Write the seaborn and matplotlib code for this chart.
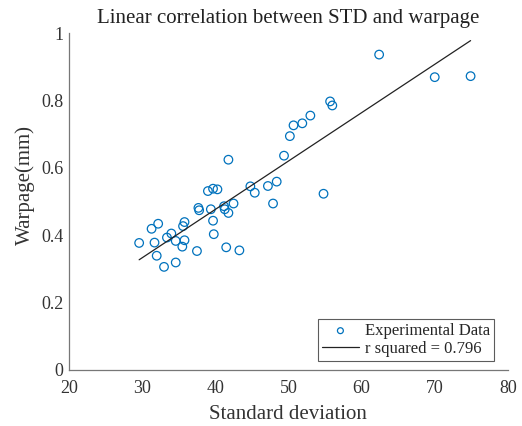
import matplotlib
matplotlib.use("Agg")
import matplotlib.pyplot as plt
import seaborn as sns
import pandas as pd
import numpy as np

std_dev = [29.6, 31.3, 32.2, 31.7, 32.0, 33.0, 34.6, 33.4, 34.0, 34.6, 35.5, 35.8,
           35.8, 35.6, 37.5, 37.7, 37.8, 39.0, 39.7, 40.3, 39.4, 39.7, 39.8, 41.2,
           41.3, 41.8, 42.5, 41.5, 43.3, 44.8, 45.4, 47.2, 48.4, 47.9, 41.8, 54.8,
           49.4, 50.2, 50.7, 51.9, 53.0, 55.7, 56.0, 62.4, 70.0, 74.9]
warpage = [0.377, 0.419, 0.434, 0.378, 0.339, 0.306, 0.319, 0.393, 0.405, 0.383, 0.366, 0.385,
           0.439, 0.427, 0.353, 0.481, 0.474, 0.531, 0.538, 0.536, 0.477, 0.443, 0.403, 0.486,
           0.477, 0.466, 0.494, 0.364, 0.355, 0.545, 0.526, 0.546, 0.559, 0.494, 0.624, 0.523,
           0.636, 0.694, 0.726, 0.732, 0.755, 0.797, 0.785, 0.936, 0.869, 0.872]

x_ticks = [20, 30, 40, 50, 60, 70, 80]
y_ticks = [0, 0.2, 0.4, 0.6, 0.8, 1]
y_tick_labels = ["0", "0.2", "0.4", "0.6", "0.8", "1"]

df = pd.DataFrame({"std": std_dev, "warp": warpage})

sns.set_style("white")
plt.rcParams["font.family"] = ["Liberation Serif", "DejaVu Serif"]

fig = plt.figure(figsize=(5.22, 4.26), dpi=100)
ax = fig.add_axes([0.132, 0.1315, 0.841, 0.791])

blue = (0.0, 0.447, 0.741)
sns.scatterplot(data=df, x="std", y="warp", ax=ax, marker="o", s=38,
                facecolors="none", edgecolor=blue, linewidth=0.9,
                label="Experimental Data")
sns.regplot(data=df, x="std", y="warp", ax=ax, scatter=False, ci=None,
            line_kws={"color": "#222222", "linewidth": 0.9},
            label="r squared = 0.796")

ax.set_xlim(20, 80)
ax.set_ylim(0, 1)
ax.set_xticks(x_ticks)
ax.set_yticks(y_ticks)
ax.set_yticklabels(y_tick_labels)
ax.tick_params(direction="in", length=3, width=0.6, colors="#666666",
               labelcolor="#333333", labelsize=13)
ax.tick_params(axis="x", pad=7)
ax.tick_params(axis="y", pad=4)
for side in ["top", "right"]:
    ax.spines[side].set_visible(False)
for side in ["left", "bottom"]:
    ax.spines[side].set_color("#777777")
    ax.spines[side].set_linewidth(0.9)

ax.set_xlabel("Standard deviation", fontsize=15, color="#333333", labelpad=6)
ax.set_ylabel("Warpage(mm)", fontsize=15, color="#333333")
ax.yaxis.set_label_coords(-0.078, 0.55)
ax.set_title("Linear correlation between STD and warpage", fontsize=15,
             color="#222222", pad=7)

leg = ax.legend(loc="lower right", bbox_to_anchor=(0.968, 0.027), fontsize=12,
                frameon=True, fancybox=False, edgecolor="#333333",
                handlelength=2.2, handletextpad=0.35, borderpad=0.25,
                labelspacing=0.1, borderaxespad=0.0)
leg.get_frame().set_linewidth(0.8)
for h in leg.legend_handles:
    try:
        h.set_sizes([18])
    except Exception:
        pass

fig.savefig("out.png", dpi=100)
